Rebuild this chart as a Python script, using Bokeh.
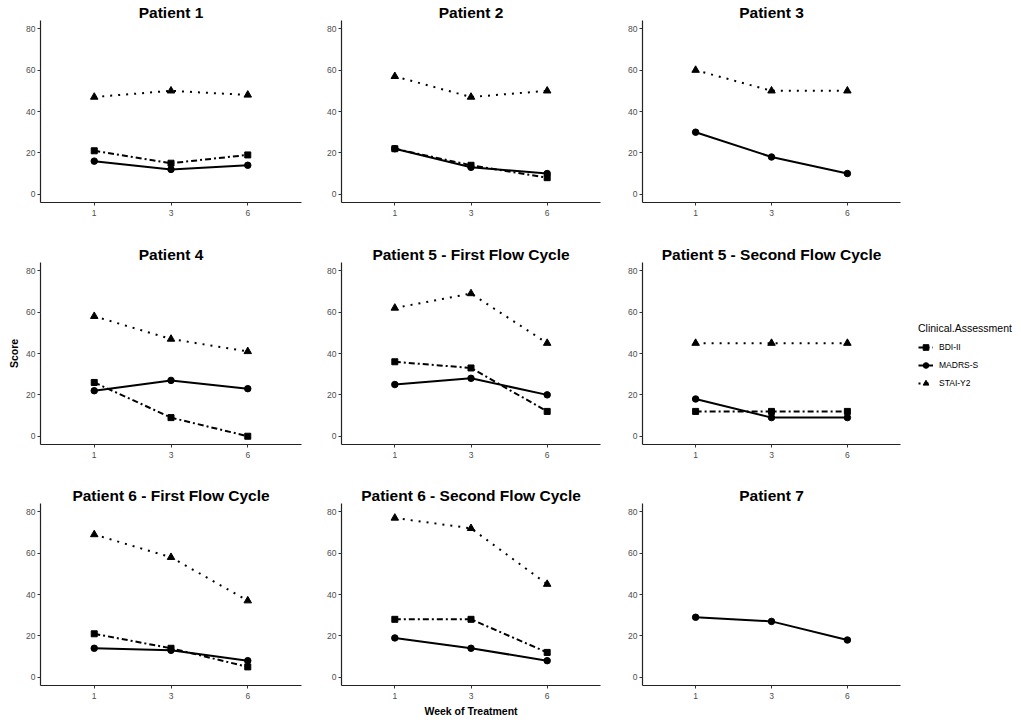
from bokeh.plotting import figure
from bokeh.models import FactorRange, Range1d, FixedTicker, Legend, LegendItem
from bokeh.layouts import column, row
from bokeh.embed import file_html
from bokeh.resources import INLINE

# ---------------- data ----------------
weeks = ["1", "3", "6"]
panel_titles = [
    "Patient 1", "Patient 2", "Patient 3",
    "Patient 4", "Patient 5 - First Flow Cycle", "Patient 5 - Second Flow Cycle",
    "Patient 6 - First Flow Cycle", "Patient 6 - Second Flow Cycle", "Patient 7",
]
series_names = ["BDI-II", "MADRS-S", "STAI-Y2"]
bdi_ii = [[21, 15, 19], [22, 14, 8], None,
          [26, 9, 0], [36, 33, 12], [12, 12, 12],
          [21, 14, 5], [28, 28, 12], None]
madrs_s = [[16, 12, 14], [22, 13, 10], [30, 18, 10],
           [22, 27, 23], [25, 28, 20], [18, 9, 9],
           [14, 13, 8], [19, 14, 8], [29, 27, 18]]
stai_y2 = [[47, 50, 48], [57, 47, 50], [60, 50, 50],
           [58, 47, 41], [62, 69, 45], [45, 45, 45],
           [69, 58, 37], [77, 72, 45], None]
y_ticks = [0, 20, 40, 60, 80]
y_label = "Score"
x_label = "Week of Treatment"
legend_title = "Clinical.Assessment"

# ---------------- styles ----------------
FONT = "Liberation Sans"
styles = {
    "BDI-II": dict(dash="6 3 2 3", marker="square", size=6),
    "MADRS-S": dict(dash="solid", marker="circle", size=6.5),
    "STAI-Y2": dict(dash="2 6", marker="triangle", size=7.5),
}
frame_w = [261, 259, 258]
left_b = [40, 32, 32]
right_b = [8, 10, 5]
frame_h = 182
top_b = 20
bottom_b = [40, 39, 34]

series_data = {"BDI-II": bdi_ii, "MADRS-S": madrs_s, "STAI-Y2": stai_y2}


def style_axes(p):
    for ax in (p.xaxis[0], p.yaxis[0]):
        ax.axis_line_color = "#222222"
        ax.axis_line_width = 1.2
        ax.major_tick_line_color = "#333333"
        ax.major_tick_in = 0
        ax.major_tick_out = 3
        ax.minor_tick_line_color = None
        ax.major_label_text_font = FONT
        ax.major_label_text_font_size = "8.5px"
        ax.major_label_text_color = "#4D4D4D"
        ax.axis_label_text_font = FONT
        ax.axis_label_text_font_size = "10.5px"
        ax.axis_label_text_font_style = "bold"
        ax.axis_label_text_color = "black"
        ax.axis_label_standoff = 3
    p.yaxis.major_label_standoff = 2
    p.xaxis.major_label_standoff = 4


figs = []
for i, title in enumerate(panel_titles):
    r, c = divmod(i, 3)
    p = figure(
        frame_width=frame_w[c], frame_height=frame_h,
        x_range=FactorRange(factors=weeks, range_padding=0.2, range_padding_units="absolute"),
        y_range=Range1d(-4, 84),
        output_backend="svg", toolbar_location=None,
        min_border_left=left_b[c], min_border_right=right_b[c],
        min_border_top=top_b, min_border_bottom=bottom_b[r],
        title=title,
    )
    p.outline_line_color = None
    p.xgrid.visible = False
    p.ygrid.visible = False
    p.title.align = "center"
    p.title.text_font = FONT
    p.title.text_font_size = "15.5px"
    p.title.text_font_style = "bold"
    p.title.text_color = "black"
    p.title.standoff = 0
    p.yaxis.ticker = FixedTicker(ticks=y_ticks)
    style_axes(p)
    if i == 3:
        p.yaxis.axis_label = y_label
    if i == 7:
        p.xaxis.axis_label = x_label

    for name in series_names:
        vals = series_data[name][i]
        if vals is None:
            continue
        st = styles[name]
        p.line(weeks, vals, line_color="black", line_width=2, line_dash=st["dash"])
        p.scatter(weeks, vals, marker=st["marker"], size=st["size"],
                  fill_color="black", line_color="black")
    figs.append(p)

# ---------------- legend panel ----------------
row2_h = top_b + frame_h + bottom_b[1]
lf = figure(frame_width=116, frame_height=row2_h, x_range=Range1d(0, 1), y_range=Range1d(0, 1),
            output_backend="svg", toolbar_location=None,
            min_border_left=0, min_border_right=0, min_border_top=0, min_border_bottom=0)
lf.axis.visible = False
lf.xgrid.visible = False
lf.ygrid.visible = False
lf.outline_line_color = None
items = []
for name in series_names:
    st = styles[name]
    # key glyphs only: their points lie outside this empty frame
    lr = lf.line([5, 6], [5, 6], line_color="black", line_width=2, line_dash=st["dash"])
    mr = lf.scatter([5], [5], marker=st["marker"], size=st["size"],
                    fill_color="black", line_color="black")
    items.append(LegendItem(label=name, renderers=[lr, mr]))

legend = Legend(
    items=items, title=legend_title, location=(13, 93),
    title_text_font=FONT, title_text_font_size="10.5px", title_text_font_style="normal",
    title_text_color="black", title_standoff=6,
    label_text_font=FONT, label_text_font_size="8.5px", label_text_color="black",
    glyph_width=15, glyph_height=14, label_height=14, label_standoff=6, spacing=4,
    padding=0, margin=0, border_line_color=None, background_fill_alpha=0,
)
lf.add_layout(legend)

layout = column(row(*figs[0:3]), row(*figs[3:6], lf), row(*figs[6:9]))
open("out.html", "w").write(file_html(layout, INLINE))
